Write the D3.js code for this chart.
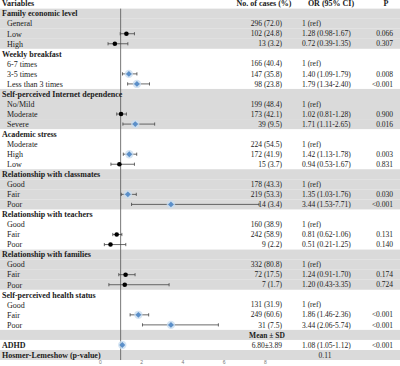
<!DOCTYPE html>
<html>
<head>
<meta charset="utf-8">
<script src="https://cdn.jsdelivr.net/npm/d3@7"></script>
<style>
  body { margin: 0; background: #fff; }
  text { font-family: "Liberation Serif", "Times New Roman", serif; fill: #1a1a1a; }
</style>
</head>
<body>
<div id="chart"></div>
<script>
// variable groups and their levels
var groups = ["Family economic level", "Weekly breakfast", "Self-perceived Internet dependence",
    "Academic stress", "Relationship with classmates", "Relationship with teachers",
    "Relationship with families", "Self-perceived health status"];
var levels = [["General", "Low", "High"], ["6-7 times", "3-5 times", "Less than 3 times"],
    ["No/Mild", "Moderate", "Severe"], ["Moderate", "High", "Low"], ["Good", "Fair", "Poor"],
    ["Good", "Fair", "Poor"], ["Good", "Fair", "Poor"], ["Good", "Fair", "Poor"]];
var cases = [["296 (72.0)", "102 (24.8)", "13 (3.2)"], ["166 (40.4)", "147 (35.8)", "98 (23.8)"],
    ["199 (48.4)", "173 (42.1)", "39 (9.5)"], ["224 (54.5)", "172 (41.9)", "15 (3.7)"],
    ["178 (43.3)", "219 (53.3)", "14 (3.4)"], ["160 (38.9)", "242 (58.9)", "9 (2.2)"],
    ["332 (80.8)", "72 (17.5)", "7 (1.7)"], ["131 (31.9)", "249 (60.6)", "31 (7.5)"]];
// odds ratios, null = reference level
var orValues = [[null, 1.28, 0.72], [null, 1.40, 1.79], [null, 1.02, 1.71], [null, 1.42, 0.94],
    [null, 1.35, 3.44], [null, 0.81, 0.51], [null, 1.24, 1.20], [null, 1.86, 3.44]];
var ciLow = [[null, 0.98, 0.39], [null, 1.09, 1.34], [null, 0.81, 1.11], [null, 1.13, 0.53],
    [null, 1.03, 1.53], [null, 0.62, 0.21], [null, 0.91, 0.43], [null, 1.46, 2.06]];
var ciHigh = [[null, 1.67, 1.35], [null, 1.79, 2.40], [null, 1.28, 2.65], [null, 1.78, 1.67],
    [null, 1.76, 7.71], [null, 1.06, 1.25], [null, 1.70, 3.35], [null, 2.36, 5.74]];
var pValues = [["", "0.066", "0.307"], ["", "0.008", "<0.001"], ["", "0.900", "0.016"],
    ["", "0.003", "0.831"], ["", "0.030", "<0.001"], ["", "0.131", "0.140"],
    ["", "0.174", "0.724"], ["", "<0.001", "<0.001"]];
// continuous variable and model fit
var adhd = {label: "ADHD", stat: "6.80±3.89", or: 1.08, lo: 1.05, hi: 1.12, p: "<0.001"};
var hosmer = {label: "Hosmer-Lemeshow (p-value)", value: "0.11"};
var xTicks = [0, 2, 4, 6, 8];

var width = 400, height = 366;
var svg = d3.select("#chart").append("svg")
    .attr("width", width)
    .attr("height", height);

// build the table rows
var rows = [];
groups.forEach(function (g, gi) {
    rows.push({type: "group", label: g, shade: gi % 2 === 0, block: gi});
    levels[gi].forEach(function (lv, li) {
        var or = orValues[gi][li];
        rows.push({
            type: "level", label: lv, cases: cases[gi][li],
            or: or, lo: ciLow[gi][li], hi: ciHigh[gi][li], p: pValues[gi][li],
            orText: or === null ? "1 (ref)" : d3.format(".2f")(or) + " (" + d3.format(".2f")(ciLow[gi][li]) + "-" + d3.format(".2f")(ciHigh[gi][li]) + ")",
            shade: gi % 2 === 0
        });
    });
});
rows.push({type: "mean", shade: true});
rows.push({type: "cont", label: adhd.label, cases: adhd.stat, or: adhd.or, lo: adhd.lo, hi: adhd.hi,
    p: adhd.p, orText: "1.08 (1.05-1.12)", shade: false});
rows.push({type: "hosmer", label: hosmer.label, shade: true});

// row positions (row 0 is the header)
var y = d3.scaleLinear().domain([0, rows.length]).range([3.6, 3.6 + 10.04 * rows.length]);
var rowH = 10.04;

var x = d3.scaleLinear().domain([0, 8]).range([100, 265]);

// shaded bands
svg.selectAll(".band")
    .data(rows.filter(function (d) { return d.shade; }))
    .enter().append("rect")
    .attr("class", "band")
    .attr("x", 0)
    .attr("width", width)
    .attr("y", function (d) { return y(rows.indexOf(d) + 1) - rowH / 2; })
    .attr("height", rowH)
    .style("fill", "#dadada");

// header
var header = svg.append("g").style("font-weight", "bold").style("font-size", "8px");
header.append("text").attr("x", 2).attr("y", y(0)).attr("dy", "0.35em").text("Variables");
header.append("text").attr("x", 264).attr("y", y(0)).attr("dy", "0.35em")
    .attr("text-anchor", "middle").text("No. of cases (%)");
header.append("text").attr("x", 331).attr("y", y(0)).attr("dy", "0.35em")
    .attr("text-anchor", "middle").text("OR (95% CI)");
header.append("text").attr("x", 386).attr("y", y(0)).attr("dy", "0.35em")
    .attr("text-anchor", "middle").text("P");

// reference line at OR = 1
svg.append("line")
    .attr("x1", x(1)).attr("x2", x(1))
    .attr("y1", y(1) - rowH / 2).attr("y2", y(rows.length) + rowH / 2)
    .style("stroke", "#555")
    .style("stroke-width", 0.8);

var rowG = svg.selectAll(".row")
    .data(rows)
    .enter().append("g")
    .attr("class", "row")
    .attr("transform", function (d, i) { return "translate(0," + y(i + 1) + ")"; });

// left labels
rowG.append("text")
    .attr("x", function (d) { return d.type === "level" ? 7 : 2; })
    .attr("dy", "0.35em")
    .style("font-size", "8px")
    .style("font-weight", function (d) { return d.type === "level" ? "normal" : "bold"; })
    .text(function (d) { return d.label || ""; });

// cases column
rowG.append("text")
    .attr("x", function (d) { return d.type === "mean" ? 267 : 282; })
    .attr("dy", "0.35em")
    .attr("text-anchor", function (d) { return d.type === "mean" ? "middle" : "end"; })
    .style("font-size", "7.5px")
    .style("font-weight", function (d) { return d.type === "mean" ? "bold" : "normal"; })
    .text(function (d) { return d.type === "mean" ? "Mean ± SD" : (d.cases || ""); });

// OR column
rowG.append("text")
    .attr("x", function (d) { return d.type === "hosmer" ? 325 : 302; })
    .attr("dy", "0.35em")
    .attr("text-anchor", function (d) { return d.type === "hosmer" ? "middle" : "start"; })
    .style("font-size", "7.5px")
    .text(function (d) { return d.type === "hosmer" ? hosmer.value : (d.orText || ""); });

// P column
rowG.append("text")
    .attr("x", 393)
    .attr("dy", "0.35em")
    .attr("text-anchor", "end")
    .style("font-size", "7.5px")
    .text(function (d) { return d.p || ""; });

// error bars and points
var est = rowG.filter(function (d) { return d.or !== null && d.or !== undefined; });

est.append("line")
    .attr("x1", function (d) { return x(d.lo); })
    .attr("x2", function (d) { return x(d.hi); })
    .style("stroke", "#444")
    .style("stroke-width", 0.8);

est.selectAll(".cap")
    .data(function (d) { return [d.lo, d.hi]; })
    .enter().append("line")
    .attr("x1", function (v) { return x(v); })
    .attr("x2", function (v) { return x(v); })
    .attr("y1", -1.6).attr("y2", 1.6)
    .style("stroke", "#444")
    .style("stroke-width", 0.8);

var sig = est.filter(function (d) { return d.lo > 1; });
var nonSig = est.filter(function (d) { return d.lo <= 1; });

sig.append("circle")
    .attr("cx", function (d) { return x(d.or); })
    .attr("r", 4.2)
    .style("fill", "#c9ddf0")
    .style("opacity", 0.8);
sig.append("path")
    .attr("transform", function (d) { return "translate(" + x(d.or) + ",0)"; })
    .attr("d", d3.symbol().type(d3.symbolDiamond2).size(22))
    .style("fill", "#5b8fc9");

nonSig.append("circle")
    .attr("cx", function (d) { return x(d.or); })
    .attr("r", 2.3)
    .style("fill", "#000");

// x axis
var axis = svg.append("g")
    .attr("transform", "translate(0," + (height - 6) + ")")
    .call(d3.axisBottom(x).tickValues(xTicks).tickSize(0).tickPadding(0));
axis.select(".domain").remove();
axis.selectAll("text")
    .style("font-size", "5px")
    .style("fill", "#777")
    .style("font-family", "Liberation Sans, sans-serif");
</script>
</body>
</html>
